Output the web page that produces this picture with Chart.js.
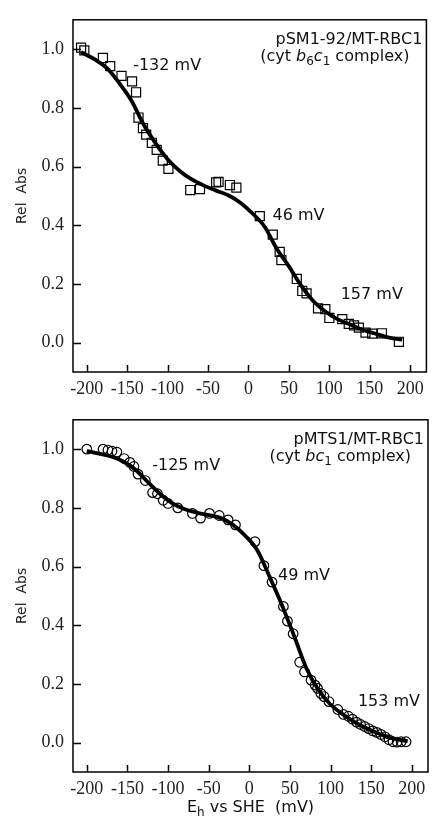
<!DOCTYPE html>
<html>
<head>
<meta charset="utf-8">
<title>Redox titrations</title>
<script src="https://cdn.jsdelivr.net/npm/chart.js@4.4.1/dist/chart.umd.min.js"></script>
<style>
    html, body { margin: 0; padding: 0; background: #fff; }
    #wrap { position: relative; width: 434px; height: 821px; overflow: hidden; }
    canvas { position: absolute; left: 0; }
    #topChart { top: 0; }
    #bottomChart { top: 400px; }
</style>
</head>
<body>
<div id="wrap">
    <canvas id="topChart" width="434" height="400"></canvas>
    <canvas id="bottomChart" width="434" height="421"></canvas>
</div>
<script>
// tick labels
const xTicks = [-200, -150, -100, -50, 0, 50, 100, 150, 200];
const yTicks = [0, 0.2, 0.4, 0.6, 0.8, 1.0];

// top panel: pSM1-92/MT-RBC1 (squares + fitted curve)
const topPointsX = [-207, -203, -180, -171, -157, -144, -139, -136, -130.5, -126.5, -119.5, -113.5, -106, -99,
    -72, -60, -40, -37, -23, -15, 14, 30, 38.6, 40.7, 59.7, 66.5, 71.8, 86, 95, 100, 116, 124, 130.5, 136.5,
    144.7, 153, 165, 186];
const topPointsY = [1.005, 0.996, 0.97, 0.942, 0.909, 0.89, 0.853, 0.767, 0.731, 0.709, 0.681, 0.657, 0.62, 0.592,
    0.52, 0.523, 0.546, 0.548, 0.537, 0.528, 0.431, 0.368, 0.309, 0.281, 0.217, 0.176, 0.168, 0.117, 0.114, 0.084,
    0.08, 0.064, 0.059, 0.051, 0.034, 0.031, 0.032, 0.003];
const topFitX = [-207, -190, -175, -160, -145, -130, -115, -100, -85, -70, -55, -40, -25, -10, 5, 20, 35, 50,
    65, 80, 95, 110, 125, 140, 155, 170, 190];
const topFitY = [0.99, 0.965, 0.935, 0.885, 0.826, 0.745, 0.68, 0.625, 0.585, 0.556, 0.535, 0.518, 0.502, 0.477,
    0.44, 0.395, 0.32, 0.26, 0.195, 0.142, 0.106, 0.08, 0.063, 0.045, 0.032, 0.02, 0.01];

// bottom panel: pMTS1/MT-RBC1 (circles + fitted curve)
const bottomPointsX = [-200, -180, -174, -169, -163, -154, -147, -142, -137, -128, -119, -113, -106, -100, -88,
    -70, -60, -49, -37, -26, -17, 7, 18, 28, 42, 47, 54, 62, 68, 76, 81, 84, 88, 92, 98, 109, 116, 122, 127, 132,
    137, 142, 147, 152, 157, 162, 167, 172, 177, 182, 187, 193];
const bottomPointsY = [1.0, 1.0, 0.997, 0.993, 0.99, 0.968, 0.955, 0.941, 0.915, 0.893, 0.852, 0.848, 0.826, 0.815,
    0.80, 0.781, 0.765, 0.781, 0.774, 0.759, 0.742, 0.685, 0.603, 0.547, 0.464, 0.414, 0.371, 0.274, 0.241, 0.213,
    0.196, 0.185, 0.168, 0.157, 0.14, 0.113, 0.096, 0.09, 0.08, 0.07, 0.062, 0.055, 0.048, 0.04, 0.035, 0.028,
    0.02, 0.01, 0.003, 0.002, 0.003, 0.003];
const bottomFitX = [-200, -185, -170, -155, -140, -125, -110, -95, -80, -65, -50, -35, -20, -5, 10, 25, 40, 55,
    70, 85, 100, 115, 130, 145, 160, 175, 195];
const bottomFitY = [0.993, 0.985, 0.975, 0.958, 0.93, 0.888, 0.848, 0.816, 0.796, 0.784, 0.775, 0.765, 0.742,
    0.705, 0.655, 0.565, 0.47, 0.365, 0.255, 0.18, 0.13, 0.097, 0.07, 0.048, 0.03, 0.015, 0.005];

// midpoint potentials written on the curves
const topMidLabels = ['-132 mV', '46 mV', '157 mV'];
const bottomMidLabels = ['-125 mV', '49 mV', '153 mV'];

const SANS = '"DejaVu Sans"';
const SERIF = '"Liberation Serif"';

function pts(xs, ys) {
    return xs.map((x, i) => ({ x: x, y: ys[i] }));
}

// draws a run of text pieces; style '' plain, 'i' italic, 'sub' subscript
function drawRich(ctx, parts, x, y, align, size) {
    const fontFor = s => s === 'i' ? `italic ${size}px ${SANS}` :
        s === 'sub' ? `${Math.round(size * 0.72)}px ${SANS}` : `${size}px ${SANS}`;
    let total = 0;
    parts.forEach(([t, s]) => { ctx.font = fontFor(s); total += ctx.measureText(t).width; });
    let cx = align === 'right' ? x - total : align === 'center' ? x - total / 2 : x;
    ctx.textAlign = 'left';
    ctx.textBaseline = 'middle';
    parts.forEach(([t, s]) => {
        ctx.font = fontFor(s);
        ctx.fillText(t, cx, s === 'sub' ? y + size * 0.32 : y);
        cx += ctx.measureText(t).width;
    });
}

function makeChart(id, cfg) {
    const framePlugin = {
        id: 'frame' + id,
        afterDraw(chart) {
            const { ctx, chartArea: a, scales: { x, y } } = chart;
            ctx.save();
            ctx.strokeStyle = '#000';
            ctx.lineWidth = 1.5;
            ctx.strokeRect(a.left, a.top, a.right - a.left, a.bottom - a.top);
            ctx.beginPath();
            x.ticks.forEach(t => {
                const px = Math.round(x.getPixelForValue(t.value)) + 0.5;
                ctx.moveTo(px, a.bottom);
                ctx.lineTo(px, a.bottom - 7);
            });
            y.ticks.forEach(t => {
                const py = Math.round(y.getPixelForValue(t.value)) + 0.5;
                ctx.moveTo(a.left, py);
                ctx.lineTo(a.left + 8, py);
            });
            ctx.stroke();

            ctx.fillStyle = '#111';
            // construct name and complex, top right
            drawRich(ctx, cfg.name, a.right - 4, a.top + 20, 'right', 16);
            drawRich(ctx, cfg.complex, a.right - 17, a.top + 37, 'right', 16);
            // midpoint labels, placed in data units
            cfg.mids.forEach((m, i) => {
                drawRich(ctx, [[cfg.midTexts[i], '']], x.getPixelForValue(m[0]), y.getPixelForValue(m[1]), 'left', 16);
            });
            if (cfg.xTitle) {
                drawRich(ctx, [['E', ''], ['h', 'sub'], [' vs SHE  (mV)', '']],
                    (a.left + a.right) / 2, a.bottom + 36, 'center', 16);
            }
            ctx.restore();
        }
    };

    return new Chart(document.getElementById(id), {
        type: 'scatter',
        data: {
            datasets: [{
                data: pts(cfg.px, cfg.py),
                showLine: false,
                pointStyle: cfg.marker,
                pointRadius: cfg.radius,
                pointBackgroundColor: 'rgba(0,0,0,0)',
                pointBorderColor: '#000',
                pointBorderWidth: 1.2,
                order: 0
            }, {
                data: pts(cfg.fx, cfg.fy),
                showLine: true,
                borderColor: '#000',
                borderWidth: 3.8,
                pointRadius: 0,
                tension: 0.4,
                cubicInterpolationMode: 'monotone',
                order: 1
            }]
        },
        options: {
            responsive: false,
            animation: false,
            devicePixelRatio: 1,
            layout: { padding: { top: cfg.padTop, right: 2, left: 0, bottom: 0 } },
            plugins: { legend: { display: false }, tooltip: { enabled: false } },
            scales: {
                x: {
                    type: 'linear',
                    min: -217,
                    max: 220,
                    grid: { display: false, drawTicks: false },
                    border: { display: false },
                    afterBuildTicks: s => { s.ticks = xTicks.map(v => ({ value: v })); },
                    afterFit: s => { s.height = cfg.xHeight; },
                    ticks: {
                        autoSkip: false,
                        maxRotation: 0,
                        padding: 6,
                        color: '#222',
                        font: { family: SERIF, size: 18 },
                        callback: v => String(v)
                    }
                },
                y: {
                    min: -0.1,
                    max: 1.1,
                    grid: { display: false, drawTicks: false },
                    border: { display: false },
                    afterBuildTicks: s => { s.ticks = yTicks.map(v => ({ value: v })); },
                    afterFit: s => { s.width = 73; },
                    title: {
                        display: true,
                        text: 'Rel  Abs',
                        color: '#222',
                        font: { family: SANS, size: 14 },
                        padding: { top: 14, bottom: 0 }
                    },
                    ticks: {
                        padding: 9,
                        color: '#222',
                        font: { family: SERIF, size: 18 },
                        callback: v => v.toFixed(1)
                    }
                }
            }
        },
        plugins: [framePlugin]
    });
}

document.addEventListener('DOMContentLoaded', function() {
    makeChart('topChart', {
        px: topPointsX, py: topPointsY, fx: topFitX, fy: topFitY,
        marker: 'rect', radius: 6.4,
        padTop: 11, xHeight: 28,
        name: [['pSM1-92/MT-RBC1', '']],
        complex: [['(cyt ', ''], ['b', 'i'], ['6', 'sub'], ['c', 'i'], ['1', 'sub'], [' complex)', '']],
        midTexts: topMidLabels,
        mids: [[-142.6, 0.943], [29.7, 0.433], [114, 0.164]],
        xTitle: false
    });

    makeChart('bottomChart', {
        px: bottomPointsX, py: bottomPointsY, fx: bottomFitX, fy: bottomFitY,
        marker: 'circle', radius: 4.8,
        padTop: 12, xHeight: 49,
        name: [['pMTS1/MT-RBC1', '']],
        complex: [['(cyt ', ''], ['bc', 'i'], ['1', 'sub'], [' complex)', '']],
        midTexts: bottomMidLabels,
        mids: [[-119.5, 0.943], [35.4, 0.57], [133.7, 0.14]],
        xTitle: true
    });
});
</script>
</body>
</html>
